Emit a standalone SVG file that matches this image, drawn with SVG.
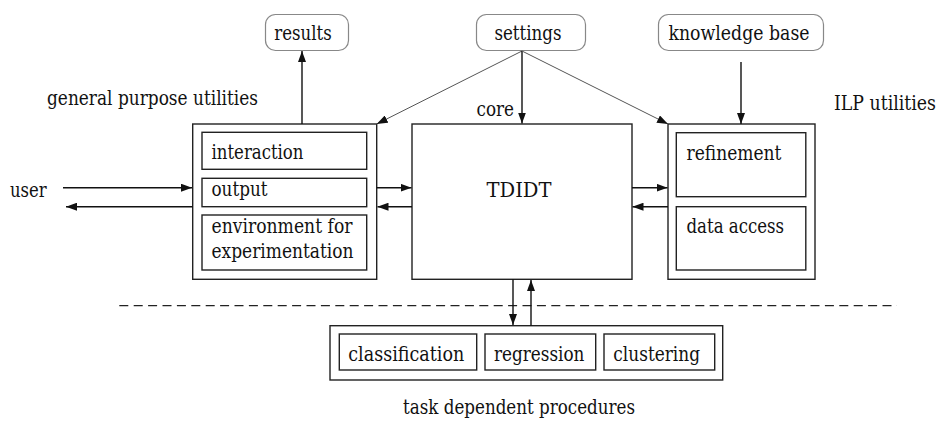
<svg xmlns="http://www.w3.org/2000/svg" width="947" height="421" viewBox="0 0 947 421">
<defs>
<marker id="ah" markerUnits="userSpaceOnUse" markerWidth="11" markerHeight="8" refX="11" refY="4" orient="auto">
<path d="M0,0 L11,4 L0,8 z" fill="#111"/>
</marker>
<style>
text{font-family:'DejaVu Serif',serif;font-size:19.5px;fill:#111}
.box{fill:#fff;stroke:#222;stroke-width:1.4}
.rbox{fill:#fff;stroke:#888;stroke-width:1.2}
.c{fill:none;stroke:#111;stroke-width:1.4;marker-end:url(#ah)}
.d{fill:none;stroke:#555;stroke-width:1;marker-end:url(#ah)}
.mid{text-anchor:middle}
</style>
</defs>
<rect width="947" height="421" fill="#fff"/>

<g id="labels">
<text x="47" y="105" textLength="211" lengthAdjust="spacingAndGlyphs">general purpose utilities</text>
<text x="834" y="110" textLength="102" lengthAdjust="spacingAndGlyphs">ILP utilities</text>
<text x="10" y="197" textLength="36.7" lengthAdjust="spacingAndGlyphs">user</text>
<text x="476.5" y="116" textLength="37.5" lengthAdjust="spacingAndGlyphs">core</text>
<text x="403" y="414" textLength="232" lengthAdjust="spacingAndGlyphs">task dependent procedures</text>
</g>

<g id="results">
<rect class="rbox" x="265.5" y="14.5" width="83" height="36" rx="10"/>
<text class="mid" x="303" y="40" textLength="57.4" lengthAdjust="spacingAndGlyphs">results</text>
</g>
<g id="settings">
<rect class="rbox" x="476.5" y="14.5" width="109" height="36" rx="10"/>
<text class="mid" x="528" y="40" textLength="67.2" lengthAdjust="spacingAndGlyphs">settings</text>
</g>
<g id="knowledge-base">
<rect class="rbox" x="658.5" y="14.5" width="165" height="36" rx="10"/>
<text class="mid" x="739" y="40" textLength="141" lengthAdjust="spacingAndGlyphs">knowledge base</text>
</g>

<g id="general-utilities">
<rect class="box" x="192.7" y="124" width="184" height="155.3"/>
<g id="interaction">
<rect class="box" x="202" y="132.3" width="164.7" height="37"/>
<text x="211.5" y="159" textLength="92" lengthAdjust="spacingAndGlyphs">interaction</text>
</g>
<g id="output">
<rect class="box" x="202" y="178.3" width="164.7" height="28.4"/>
<text x="211.5" y="196" textLength="56" lengthAdjust="spacingAndGlyphs">output</text>
</g>
<g id="environment">
<rect class="box" x="202" y="215" width="164.7" height="55"/>
<text x="211.5" y="233" textLength="141" lengthAdjust="spacingAndGlyphs">environment for</text>
<text x="211.5" y="258" textLength="142" lengthAdjust="spacingAndGlyphs">experimentation</text>
</g>
</g>

<g id="tdidt">
<rect class="box" x="412" y="124" width="220" height="155.3"/>
<text class="mid" x="519" y="197" textLength="65" lengthAdjust="spacingAndGlyphs">TDIDT</text>
</g>

<g id="ilp-utilities">
<rect class="box" x="668" y="124" width="147" height="155.3"/>
<g id="refinement">
<rect class="box" x="676.3" y="132.7" width="129.5" height="64"/>
<text x="686.5" y="160" textLength="95" lengthAdjust="spacingAndGlyphs">refinement</text>
</g>
<g id="data-access">
<rect class="box" x="676.3" y="206.7" width="129.5" height="63.3"/>
<text x="686.5" y="233" textLength="97.5" lengthAdjust="spacingAndGlyphs">data access</text>
</g>
</g>

<line x1="119.3" y1="305.7" x2="897" y2="305.7" stroke="#222" stroke-width="1.3" stroke-dasharray="9 5.4"/>

<g id="task-procedures">
<rect class="box" x="330" y="325.7" width="392.7" height="54.3"/>
<g id="classification">
<rect class="box" x="339.3" y="334" width="137.4" height="36"/>
<text x="348.3" y="360.5" textLength="116" lengthAdjust="spacingAndGlyphs">classification</text>
</g>
<g id="regression">
<rect class="box" x="485" y="334" width="110.7" height="36"/>
<text x="494" y="360.5" textLength="90.4" lengthAdjust="spacingAndGlyphs">regression</text>
</g>
<g id="clustering">
<rect class="box" x="604" y="334" width="110.7" height="36"/>
<text x="613.3" y="360.5" textLength="86.8" lengthAdjust="spacingAndGlyphs">clustering</text>
</g>
</g>

<g id="connectors">
<path class="c" d="M302,124 V51"/>
<path class="d" d="M522,51 L376.7,124"/>
<path class="c" d="M522,51 V123.5"/>
<path class="d" d="M522,51 L668,124"/>
<path class="c" d="M741,62 V124"/>
<path class="c" d="M63,187.7 H192"/>
<path class="c" d="M192.7,206.7 H66"/>
<path class="c" d="M376.7,187.7 H411.5"/>
<path class="c" d="M412,206.7 H377.5"/>
<path class="c" d="M632,187.7 H667.5"/>
<path class="c" d="M668,206.7 H632.5"/>
<path class="c" d="M513,279.3 V325"/>
<path class="c" d="M531,325.7 V280"/>
</g>
</svg>
